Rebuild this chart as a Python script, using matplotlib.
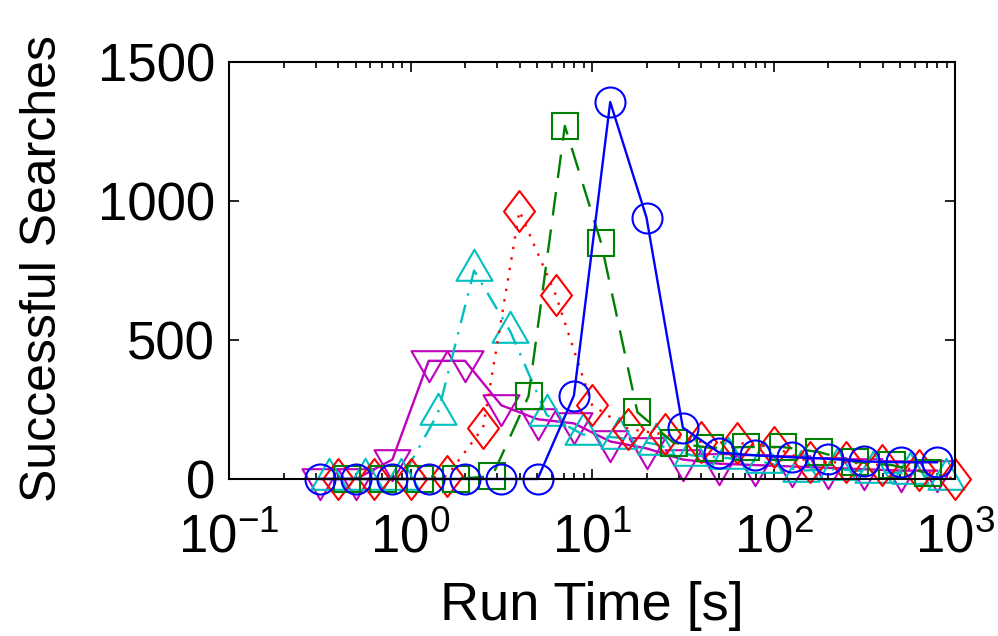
import numpy as np
import matplotlib.pyplot as plt
from matplotlib.path import Path

plt.rcParams['font.family'] = ['Liberation Sans', 'DejaVu Sans']
plt.rcParams['mathtext.fontset'] = 'custom'
plt.rcParams['mathtext.rm'] = 'Liberation Sans'

DPI = 100

# bin centres (log10 of run time) and counts for each series
blue_logx = [-0.5, -0.3, -0.1, 0.1, 0.3, 0.5, 0.7, 0.9, 1.1, 1.3, 1.5, 1.7, 1.9, 2.1, 2.3, 2.5, 2.7, 2.9]
blue_y = [0, 0, 0, 0, 0, 0, 0, 300, 1356, 940, 185, 95, 85, 78, 73, 63, 60, 60]

green_logx = [-0.35, -0.15, 0.05, 0.25, 0.45, 0.65, 0.85, 1.05, 1.25, 1.45, 1.65, 1.85, 2.05, 2.25, 2.45, 2.65, 2.85]
green_y = [0, 0, 0, 0, 10, 298, 1270, 849, 240, 130, 112, 115, 115, 97, 61, 50, 22]

red_logx = [-0.4, -0.2, 0.0, 0.2, 0.4, 0.6, 0.8, 1.0, 1.2, 1.4, 1.6, 1.8, 2.0, 2.2, 2.4, 2.6, 2.8, 3.0]
red_y = [0, 0, 0, 10, 185, 964, 662, 266, 180, 160, 133, 130, 115, 60, 60, 50, 32, 0]

cyan_logx = [-0.45, -0.25, -0.05, 0.15, 0.35, 0.55, 0.75, 0.95, 1.15, 1.35, 1.55, 1.75, 1.95, 2.15, 2.35, 2.55, 2.75, 2.95]
cyan_y = [0, 0, 0, 235, 750, 530, 230, 160, 148, 125, 85, 75, 60, 30, 35, 25, 20, 0]

magenta_logx = blue_logx
magenta_y = [0, 0, 70, 425, 425, 265, 215, 200, 135, 110, 70, 55, 50, 45, 40, 35, 30, 30]


def make_marker(verts_px):
    # closed marker path from pixel vertices; returns (path, markersize in pt)
    verts = np.array(verts_px + [verts_px[0]], dtype=float)
    codes = [Path.MOVETO] + [Path.LINETO] * (len(verts_px) - 1) + [Path.CLOSEPOLY]
    size = 2 * np.abs(verts).max() * 72.0 / DPI
    return Path(verts, codes), size


diamond, diamond_ms = make_marker([(0, 20.5), (15.5, 0), (0, -20.5), (-15.5, 0)])
tri_up, tri_up_ms = make_marker([(0, 20.7), (18, -10.3), (-18, -10.3)])
tri_dn, tri_dn_ms = make_marker([(0, -20.7), (18, 10.3), (-18, 10.3)])
circle_ms = 30 * 72.0 / DPI
square_ms = 26 * 72.0 / DPI

fig = plt.figure(figsize=(9.98, 6.36), dpi=DPI)
ax = fig.add_axes([0.2295, 0.2469, 0.957 - 0.2295, 0.9025 - 0.2469])

lw = 1.7
mew = 1.5
common = dict(linewidth=lw, markerfacecolor='none', markeredgewidth=mew, clip_on=False)

ax.plot(10 ** np.array(magenta_logx), magenta_y, color='#bf00bf', linestyle='-',
        marker=tri_dn, markersize=tri_dn_ms, markeredgecolor='#bf00bf', **common)
ax.plot(10 ** np.array(cyan_logx), cyan_y, color='#00bfbf', linestyle=(0, (8, 4, 1, 4)),
        marker=tri_up, markersize=tri_up_ms, markeredgecolor='#00bfbf', **common)
ax.plot(10 ** np.array(red_logx), red_y, color='#ff0000', linestyle=(0, (1, 3.5)),
        marker=diamond, markersize=diamond_ms, markeredgecolor='#ff0000', **common)
ax.plot(10 ** np.array(green_logx), green_y, color='#008000', linestyle=(0, (10, 6)),
        marker='s', markersize=square_ms, markeredgecolor='#008000', **common)
ax.plot(10 ** np.array(blue_logx), blue_y, color='#0000ff', linestyle='-',
        marker='o', markersize=circle_ms, markeredgecolor='#0000ff', **common)

ax.set_xscale('log')
ax.set_xlim(1e-1, 1e3)
ax.set_ylim(0, 1500)
ax.set_yticks([0, 500, 1000, 1500])
ax.set_xticks([1e-1, 1e0, 1e1, 1e2, 1e3])

for s in ax.spines.values():
    s.set_linewidth(1.5)
ax.tick_params(which='both', direction='in', top=True, right=True, width=1.2, labelsize=38)
ax.tick_params(axis='x', pad=25)
ax.tick_params(axis='y', pad=10)
ax.tick_params(which='major', length=7)
ax.tick_params(which='minor', length=4)

ax.set_xlabel('Run Time [s]', fontsize=39)
ax.set_ylabel('Successful Searches', fontsize=36)
ax.xaxis.set_label_coords(0.5, -0.245)
ax.yaxis.set_label_coords(-0.225, 0.505)

fig.savefig('out.png', dpi=DPI)
